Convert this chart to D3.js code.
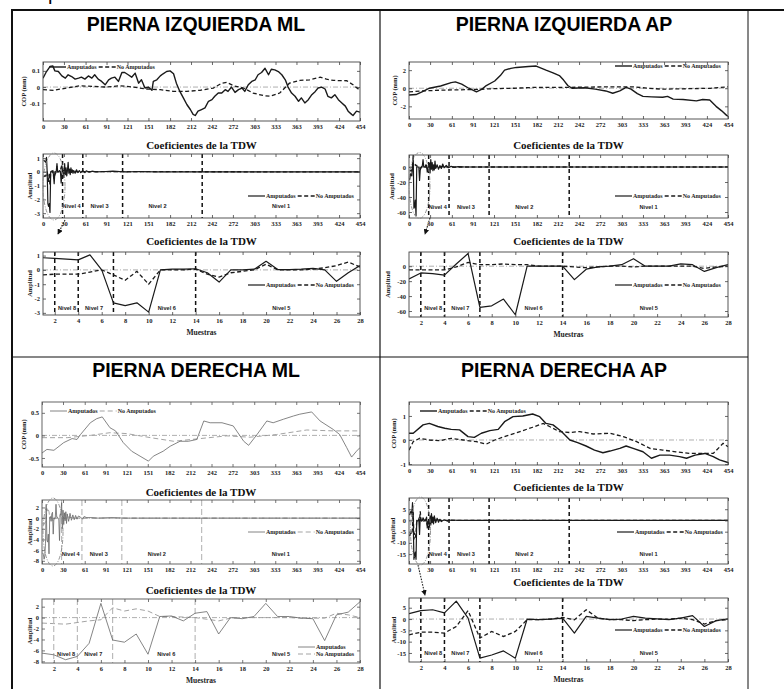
<!DOCTYPE html>
<html>
<head>
<meta charset="utf-8">
<script src="https://cdn.jsdelivr.net/npm/d3@7"></script>
<style>
  body { margin: 0; background: #fff; }
  svg { display: block; }
</style>
</head>
<body>
<svg id="chart" width="784" height="689"></svg>
<script>
// ---------- data ----------
const panelTitles = ['PIERNA IZQUIERDA ML', 'PIERNA IZQUIERDA AP', 'PIERNA DERECHA ML', 'PIERNA DERECHA AP'];
const seriesNames = ['Amputados', 'No Amputados'];
const subTitle = 'Coeficientes de la TDW';

const xTickFull = [0, 30, 61, 91, 121, 151, 182, 212, 242, 272, 303, 333, 363, 393, 424, 454];
const xTickZoom = [2, 4, 6, 8, 10, 12, 14, 16, 18, 20, 22, 24, 26, 28];
const cutsFull = [28, 57, 114, 228];
const cutsZoom = [2, 4, 7, 14];
const nivelFull = ['Nivel 4', 'Nivel 3', 'Nivel 2', 'Nivel 1'];
const nivelFullAt = [41, 81, 164, 341];
const nivelZoom = ['Nivel 8', 'Nivel 7', 'Nivel 6', 'Nivel 5'];
const nivelZoomAt = [3.05, 5.35, 11.55, 21.3];

// COP signals, [muestra, mm]
const izqMlCopAmp = [[0,0.055],[5,0.096],[10,0.127],[14,0.131],[17,0.1],[22,0.096],[27,0.069],[32,0.055],[36,0.076],[41,0.065],[46,0.049],[51,0.055],[55,0.061],[60,0.049],[65,0.069],[70,0.055],[74,0.076],[79,0.049],[84,0.035],[89,0.014],[94,0.045],[98,0.055],[103,0.061],[108,0.035],[113,0.09],[117,0.09],[122,0.076],[127,0.061],[132,0.086],[137,0.024],[141,0.045],[146,-0.006],[151,0],[156,-0.02],[158,0.035],[163,0.045],[168,0.069],[172,0.082],[177,0.096],[182,0.1],[187,0.082],[191,0.024],[196,-0.027],[201,-0.067],[206,-0.108],[211,-0.139],[215,-0.169],[218,-0.176],[222,-0.149],[227,-0.139],[232,-0.129],[237,-0.088],[242,-0.078],[246,-0.057],[251,-0.037],[256,-0.037],[261,-0.016],[265,-0.027],[270,0],[275,-0.033],[280,-0.016],[285,-0.006],[289,-0.027],[294,0.014],[299,0.035],[304,0.045],[308,0.076],[313,0.09],[318,0.116],[323,0.076],[327,0.11],[332,0.106],[337,0.096],[342,0.076],[347,0.045],[351,0],[356,-0.037],[361,-0.057],[366,-0.088],[370,-0.067],[375,-0.098],[380,-0.078],[385,-0.047],[390,-0.027],[394,-0.006],[399,0],[404,-0.012],[408,-0.057],[413,-0.067],[418,-0.047],[423,-0.078],[428,-0.098],[433,-0.118],[437,-0.149],[442,-0.169],[444,-0.176],[449,-0.149],[454,-0.155]];
const izqMlCopNoAmp = [[0,-0.016],[15,-0.02],[34,-0.006],[53,0.008],[72,0.004],[91,0],[110,0.008],[129,0],[148,-0.012],[168,-0.016],[187,-0.027],[206,-0.027],[225,-0.02],[244,-0.006],[256,0.024],[263,0.029],[273,0.008],[287,-0.006],[301,-0.037],[316,-0.053],[325,-0.057],[339,-0.037],[353,0.024],[368,0.041],[382,0.045],[397,0.061],[406,0.049],[416,0.041],[435,0.039],[444,0.014],[454,-0.02]];

const izqApCopAmp = [[0,-0.75],[10,-0.7],[20,-0.35],[29,0],[45,0.25],[60,0.62],[66,0.7],[75,0.45],[85,0],[96,-0.4],[104,-0.1],[110,0.3],[122,0.8],[130,1.4],[136,2.0],[145,2.2],[153,2.3],[170,2.4],[181,2.45],[195,2.0],[205,1.7],[214,1.4],[220,0.9],[226,0.3],[232,0],[250,0.05],[265,-0.1],[280,-0.3],[290,-0.55],[300,-0.3],[309,0.1],[316,-0.1],[325,-0.6],[333,-0.9],[345,-0.95],[361,-1.0],[368,-0.9],[376,-1.2],[390,-1.25],[409,-1.4],[418,-1.25],[428,-1.3],[437,-2.0],[445,-2.5],[452,-3.0],[454,-3.1]];
const izqApCopNoAmp = [[0,-0.4],[20,-0.3],[50,-0.2],[90,-0.15],[120,-0.05],[150,0],[180,0.1],[230,0.1],[280,0.15],[320,0.15],[340,0],[360,-0.1],[400,-0.05],[430,0],[454,0.15]];

const derMlCopAmp = [[0,-0.39],[7,-0.31],[17,-0.33],[31,-0.16],[43,-0.07],[50,-0.09],[55,0.02],[69,0.28],[78,0.37],[86,0.41],[97,0.17],[105,0.1],[116,-0.16],[128,-0.35],[140,-0.46],[152,-0.57],[159,-0.46],[173,-0.35],[183,-0.24],[197,-0.13],[209,-0.13],[221,-0.09],[231,0.32],[240,0.28],[257,0.28],[273,0.21],[288,-0.13],[295,-0.22],[307,0.02],[321,0.32],[330,0.28],[345,0.36],[359,0.43],[368,0.47],[385,0.52],[397,0.32],[416,0.13],[425,0.02],[435,-0.27],[442,-0.48],[449,-0.35],[454,-0.27]];
const derMlCopNoAmp = [[0,-0.05],[36,-0.05],[69,0],[97,0.06],[121,0.04],[155,-0.05],[188,-0.13],[226,-0.07],[264,-0.01],[297,-0.04],[335,0.02],[378,0.12],[416,0.1],[454,0.1]];

const derApCopAmp = [[0,0.28],[6,0.28],[20,0.63],[29,0.69],[41,0.56],[51,0.49],[60,0.44],[72,0.42],[84,0.14],[93,0.11],[103,0.28],[115,0.39],[127,0.44],[136,0.76],[148,0.97],[162,1.0],[176,1.08],[186,0.97],[195,0.69],[205,0.63],[217,0.35],[229,0],[240,-0.11],[252,-0.25],[264,-0.42],[276,-0.53],[286,-0.46],[300,-0.35],[309,-0.25],[319,-0.35],[333,-0.49],[345,-0.76],[357,-0.63],[371,-0.63],[385,-0.69],[395,-0.76],[407,-0.63],[421,-0.56],[433,-0.69],[442,-0.83],[454,-0.94]];
const derApCopNoAmp = [[0,-0.42],[6,-0.07],[15,0.07],[29,0],[44,-0.03],[60,0.07],[77,0],[96,-0.07],[110,-0.17],[122,0],[139,0.17],[158,0.35],[176,0.53],[191,0.69],[200,0.56],[214,0.35],[229,0.31],[243,0.35],[262,0.25],[286,0.28],[305,0.14],[324,-0.07],[343,-0.35],[361,-0.42],[380,-0.49],[399,-0.56],[414,-0.56],[433,-0.56],[447,-0.14],[454,-0.28]];

// first 28 wavelet coefficients (niveles 8 a 5)
const izqMlCoefAmp = [0.85, 0.8, 0.75, 0.7, 1.05, 0.0, -2.3, -2.5, -2.3, -2.95, 0.0, 0.05, 0.05, 0.08, -0.2, -0.85, 0.0, 0.0, 0.05, 0.6, 0.02, 0.02, 0.05, 0.1, 0.0, -0.8, -0.2, 0.3];
const izqMlCoefNoAmp = [-0.35, -0.3, -0.3, -0.3, -0.15, 0.0, -0.35, -0.73, -0.1, -1.0, 0.0, 0.0, 0.0, 0.05, -0.3, -0.5, -0.2, -0.1, 0.0, 0.4, 0.0, 0.0, 0.0, 0.05, 0.15, 0.3, 0.55, 0.2];
const izqApCoefAmp = [-17, -9, -10, -12, 3, 17, -55, -53, -44, -65, 0, 0, 0, 0, -18, -4, -1, 0, 2, 10, 0, 0, 0, 3, 2, -7, -2, 2];
const izqApCoefNoAmp = [-5, -5, -5, -5, -1, 5, 2, 2, 3, 2, 2, 0, 0, 0, -1, -2, -1, 0, 0, -1, 0, 0, 0, 0, 0, -3, -1, 0];
const derMlCoefAmp = [-6.5, -6.8, -7.7, -7.1, -4.7, 2.6, -4.1, -4.5, -3.0, -6.7, 0.2, 0.3, -0.6, 0.8, 1.1, -3.0, 0.0, -0.2, 0.2, 2.6, 0.2, 0.2, -0.1, -0.2, -4.2, 0.5, 1.0, 2.9];
const derMlCoefNoAmp = [-1.0, -1.1, -1.2, -0.9, -0.6, -0.4, 1.8, 1.2, 1.6, 1.2, 0.2, 0.2, 0.1, 0.0, -0.3, -0.6, -0.1, 0.0, 0.0, 0.0, 0.0, 0.0, -0.1, -0.1, -0.1, 0.8, 0.5, 0.0];
const derApCoefAmp = [2.4, 3.7, 4.1, 2.7, 7.9, 0.4, -17.3, -15.9, -14.1, -17.3, 0, -0.3, 0, 0.4, -6.2, 1.2, 0.4, -0.3, 0, 1.2, 0.4, 0.1, -0.3, 0.4, 1.5, -3.3, -0.7, 0.1];
const derApCoefNoAmp = [-7, -5.8, -5.8, -6.2, -3.3, 3.7, -8.4, -5.5, -7.7, -5.5, -0.3, -0.3, 0, 0.7, -0.3, 4.1, 0.4, -0.3, -0.3, -0.7, -0.3, 0, 0, 0.4, -0.3, -2.2, -0.7, -0.3];

// remaining coefficients (niveles 4 a 1), [muestra, amplitud]
const izqMlTailAmp = [[29,0.2],[30,-0.4],[31,0.6],[32,-0.2],[33,0.3],[34,-0.3],[35,0.1],[36,0.7],[37,-0.1],[38,0.2],[39,-0.2],[40,0.3],[41,0],[42,0.15],[43,-0.1],[44,0.1],[46,-0.1],[48,0.15],[50,-0.05],[52,0.1],[54,-0.05],[56,0.05],[58,0.05],[60,-0.05],[62,0.08],[66,-0.03],[70,0.05],[76,0],[90,0.03],[100,0.05],[110,0.02],[120,0],[140,0.03],[160,0],[454,0]];
const izqMlTailNoAmp = [[29,0.05],[32,-0.05],[36,0.1],[40,-0.05],[45,0.05],[50,0],[60,0.02],[454,0]];
const izqApTailAmp = [[29,5],[30,-8],[31,10],[32,-3],[33,6],[34,-5],[35,3],[36,-4],[37,8],[38,-2],[40,3],[42,-3],[44,2],[46,-2],[48,4],[50,-1],[53,2],[56,-1],[60,1],[64,-0.5],[70,0.5],[80,0],[454,0]];
const izqApTailNoAmp = [[29,1],[32,-1],[36,1.5],[40,-0.5],[46,0.5],[60,0],[454,0]];
const derMlTailAmp = [[29,-2],[30,1.5],[31,-1.2],[32,1],[33,-0.5],[34,1.2],[35,-1],[36,0.8],[38,-0.6],[40,0.9],[42,-0.4],[44,0.6],[46,-0.3],[48,0.5],[50,-0.2],[52,0.4],[55,0.2],[58,-0.2],[60,0.3],[64,0.1],[70,0.1],[80,0],[100,0.1],[120,0],[454,0]];
const derMlTailNoAmp = [[29,0.3],[33,-0.2],[38,0.2],[45,0],[454,0]];
const derApTailAmp = [[29,-3],[30,2],[31,-2],[32,3],[33,-1],[34,1.5],[35,-1.5],[36,2],[38,-1],[40,1],[42,-0.8],[44,0.5],[46,-0.5],[50,0.3],[55,-0.3],[60,0.2],[70,0],[454,0]];
const derApTailNoAmp = [[29,0.5],[33,-0.5],[38,0.5],[45,0],[454,0]];

// ---------- layout ----------
const SERIF = '"Liberation Serif", "DejaVu Serif", serif';
const SANS = '"Liberation Sans", Arial, sans-serif';
const asPairs = arr => arr.map((v, i) => [i + 1, v]);

const panels = [
  {
    title: panelTitles[0], cx: 196, ty: 31, left: 43, right: 360, gray: false,
    cop: { top: 62, bottom: 121, dom: [-0.21, 0.155], ticks: [-0.1, 0, 0.1], ylab: 24, legend: { x: 49, y: 67 },
           amp: izqMlCopAmp, noAmp: izqMlCopNoAmp },
    full: { top: 154, bottom: 218, dom: [-3.35, 1.3], ticks: [-3, -2, -1, 0, 1], ylab: 30, legend: { x: 248, y: 196 }, tty: 149, nivelY: 208,
            amp: asPairs(izqMlCoefAmp).concat(izqMlTailAmp), noAmp: asPairs(izqMlCoefNoAmp).concat(izqMlTailNoAmp),
            ellipse: [54, 186.5, 11, 33.5], arrow: [[65, 220], [58, 234]] },
    zoom: { top: 252, bottom: 315, dom: [-3.15, 1.25], ticks: [-3, -2, -1, 0, 1], ylab: 29.5, legend: { x: 248, y: 285 }, tty: 245, nivelY: 310,
            amp: asPairs(izqMlCoefAmp), noAmp: asPairs(izqMlCoefNoAmp) }
  },
  {
    title: panelTitles[1], cx: 564, ty: 31, left: 409, right: 728, gray: false,
    cop: { top: 62, bottom: 119, dom: [-3.4, 2.9], ticks: [-2, 0, 2], ylab: 395, legend: { x: 615, y: 66 },
           amp: izqApCopAmp, noAmp: izqApCopNoAmp },
    full: { top: 155, bottom: 218, dom: [-68, 16], ticks: [-60, -40, -20, 0], ylab: 392, legend: { x: 615, y: 196 }, tty: 149, nivelY: 209,
            amp: asPairs(izqApCoefAmp).concat(izqApTailAmp), noAmp: asPairs(izqApCoefNoAmp).concat(izqApTailNoAmp),
            ellipse: [419.5, 185.5, 10.5, 33], arrow: [[430, 218], [425, 234]] },
    zoom: { top: 252, bottom: 317, dom: [-68, 19], ticks: [-60, -40, -20, 0], ylab: 388, legend: { x: 615, y: 285 }, tty: 245, nivelY: 310,
            amp: asPairs(izqApCoefAmp), noAmp: asPairs(izqApCoefNoAmp) }
  },
  {
    title: panelTitles[2], cx: 196, ty: 377, left: 42, right: 360, gray: true,
    cop: { top: 402, bottom: 467, dom: [-0.7, 0.74], ticks: [-0.5, 0, 0.5], ylab: 24, legend: { x: 50, y: 411 },
           amp: derMlCopAmp, noAmp: derMlCopNoAmp },
    full: { top: 500, bottom: 564, dom: [-8.6, 3.4], ticks: [-8, -6, -4, -2, 0, 2], ylab: 29.5, legend: { x: 248, y: 532 }, tty: 496, nivelY: 556,
            amp: asPairs(derMlCoefAmp).concat(derMlTailAmp), noAmp: asPairs(derMlCoefNoAmp).concat(derMlTailNoAmp),
            ellipse: [53, 532, 10, 34] },
    zoom: { top: 599, bottom: 663, dom: [-8.3, 3.4], ticks: [-8, -6, -4, -2, 0, 2], ylab: 29.5, legend: { x: 298, y: 647, vertical: true }, tty: 594, nivelY: 656,
            amp: asPairs(derMlCoefAmp), noAmp: asPairs(derMlCoefNoAmp) }
  },
  {
    title: panelTitles[3], cx: 564, ty: 377, left: 409, right: 728, gray: false,
    cop: { top: 402, bottom: 465, dom: [-1.04, 1.58], ticks: [-1, 0, 1], ylab: 393.5, legend: { x: 420, y: 411 },
           amp: derApCopAmp, noAmp: derApCopNoAmp },
    full: { top: 498, bottom: 564, dom: [-19.4, 10], ticks: [-15, -10, -5, 0, 5], ylab: 393, legend: { x: 617, y: 532 }, tty: 491, nivelY: 556,
            amp: asPairs(derApCoefAmp).concat(derApTailAmp), noAmp: asPairs(derApCoefNoAmp).concat(derApTailNoAmp),
            ellipse: [420.5, 531, 10, 34], arrow: [[418, 565], [425, 595]] },
    zoom: { top: 598, bottom: 662, dom: [-19, 9.3], ticks: [-15, -10, -5, 0, 5], ylab: 394, legend: { x: 615, y: 630 }, tty: 586, nivelY: 655,
            amp: asPairs(derApCoefAmp), noAmp: asPairs(derApCoefNoAmp) }
  }
];

const svg = d3.select('#chart');

svg.append('defs').append('marker')
  .attr('id', 'arrowHead')
  .attr('viewBox', '0 0 8 8')
  .attr('refX', 7).attr('refY', 4)
  .attr('markerWidth', 5).attr('markerHeight', 5)
  .attr('orient', 'auto')
  .append('path').attr('d', 'M0,0 L8,4 L0,8 z').attr('fill', '#111');

// cropped glyph from the text above the table
svg.append('text').attr('x', 48).attr('y', 0)
  .attr('font-family', SANS).attr('font-size', 20).text('p');

// table frame
const frame = svg.append('g').attr('stroke', '#111');
frame.append('line').attr('x1', 11).attr('y1', 10).attr('x2', 784).attr('y2', 10).attr('stroke-width', 2);
frame.append('line').attr('x1', 12).attr('y1', 10).attr('x2', 12).attr('y2', 689).attr('stroke-width', 2);
frame.append('line').attr('x1', 380).attr('y1', 10).attr('x2', 380).attr('y2', 689).attr('stroke-width', 1.2);
frame.append('line').attr('x1', 748).attr('y1', 10).attr('x2', 748).attr('y2', 689).attr('stroke-width', 1);
frame.append('line').attr('x1', 12).attr('y1', 357).attr('x2', 748).attr('y2', 357).attr('stroke-width', 1.2);

let clipCount = 0;

function drawLegend(g, lg, st) {
  const lineLen = 17;
  const items = [
    { name: seriesNames[0], dash: null, color: st.ampColor, w: st.ampWidth },
    { name: seriesNames[1], dash: st.dash, color: st.noColor, w: st.noWidth }
  ];
  let cx = lg.x;
  items.forEach((it, i) => {
    const cy = lg.vertical ? lg.y + i * 7 : lg.y;
    const x0 = lg.vertical ? lg.x : cx;
    g.append('line')
      .attr('x1', x0).attr('x2', x0 + lineLen).attr('y1', cy).attr('y2', cy)
      .attr('stroke', it.color).attr('stroke-width', it.w)
      .attr('stroke-dasharray', it.dash);
    const t = g.append('text')
      .attr('x', x0 + lineLen + 1).attr('y', cy).attr('dy', '0.33em')
      .attr('font-family', SERIF).attr('font-size', 6).attr('font-weight', 'bold')
      .attr('fill', '#222').text(it.name);
    cx = x0 + lineLen + 1 + t.node().getComputedTextLength() + 2;
  });
}

function drawSubplot(p, cfg, kind) {
  const st = p.gray
    ? { ampColor: '#666', ampWidth: 0.8, noColor: '#999', noWidth: 0.9, dash: '5,3', cutColor: '#999', cutWidth: 0.8, cutDash: '6,3', box: '#555' }
    : { ampColor: '#1a1a1a', ampWidth: kind === 'cop' ? 1.4 : 1.2, noColor: '#1a1a1a', noWidth: 1.3, dash: '4,2.5', cutColor: '#111', cutWidth: 1.5, cutDash: '4,3', box: '#444' };

  const xDom = kind === 'zoom' ? [1, 28] : [0, 454];
  const x = d3.scaleLinear().domain(xDom).range([p.left, p.right]);
  const y = d3.scaleLinear().domain(cfg.dom).range([cfg.bottom, cfg.top]);
  const g = svg.append('g');

  const clipId = 'clip' + (clipCount++);
  g.append('clipPath').attr('id', clipId).append('rect')
    .attr('x', p.left).attr('y', cfg.top)
    .attr('width', p.right - p.left).attr('height', cfg.bottom - cfg.top);

  const plot = g.append('g').attr('clip-path', `url(#${clipId})`);

  // zero reference (dash-dot)
  plot.append('line')
    .attr('x1', p.left).attr('x2', p.right).attr('y1', y(0)).attr('y2', y(0))
    .attr('stroke', '#9a9a9a').attr('stroke-width', 0.8)
    .attr('stroke-dasharray', '5,2,1,2');

  // level separators
  if (kind !== 'cop') {
    const cuts = kind === 'zoom' ? cutsZoom : cutsFull;
    plot.selectAll('.cut').data(cuts).enter().append('line')
      .attr('x1', d => x(d)).attr('x2', d => x(d))
      .attr('y1', cfg.top).attr('y2', cfg.bottom)
      .attr('stroke', st.cutColor).attr('stroke-width', st.cutWidth)
      .attr('stroke-dasharray', st.cutDash);
  }

  const line = d3.line().x(d => x(d[0])).y(d => y(d[1]));
  plot.append('path').datum(cfg.noAmp).attr('d', line)
    .attr('fill', 'none').attr('stroke', st.noColor).attr('stroke-width', st.noWidth)
    .attr('stroke-dasharray', st.dash);
  plot.append('path').datum(cfg.amp).attr('d', line)
    .attr('fill', 'none').attr('stroke', st.ampColor).attr('stroke-width', st.ampWidth)
    .attr('stroke-linejoin', 'round');

  // axes (MATLAB style: ticks inside on all four sides)
  const xt = kind === 'zoom' ? xTickZoom : xTickFull;
  const styleAxis = sel => {
    sel.select('.domain').remove();
    sel.selectAll('line').attr('stroke', st.box).attr('stroke-width', 0.8);
    sel.selectAll('text').attr('font-family', SERIF).attr('font-size', 6.5)
      .attr('font-weight', 'bold').attr('fill', '#222');
  };
  g.append('g').attr('transform', `translate(0,${cfg.bottom})`)
    .call(d3.axisBottom(x).tickValues(xt).tickSize(-3).tickPadding(3.5).tickFormat(d => String(d)))
    .call(styleAxis);
  g.append('g').attr('transform', `translate(0,${cfg.top})`)
    .call(d3.axisTop(x).tickValues(xt).tickSize(-3).tickFormat(''))
    .call(styleAxis);
  g.append('g').attr('transform', `translate(${p.left},0)`)
    .call(d3.axisLeft(y).tickValues(cfg.ticks).tickSize(-3).tickPadding(3).tickFormat(d => String(d)))
    .call(styleAxis);
  g.append('g').attr('transform', `translate(${p.right},0)`)
    .call(d3.axisRight(y).tickValues(cfg.ticks).tickSize(-3).tickFormat(''))
    .call(styleAxis);

  g.append('rect')
    .attr('x', p.left).attr('y', cfg.top)
    .attr('width', p.right - p.left).attr('height', cfg.bottom - cfg.top)
    .attr('fill', 'none').attr('stroke', st.box).attr('stroke-width', 0.9);

  // y label
  g.append('text')
    .attr('transform', `translate(${cfg.ylab},${(cfg.top + cfg.bottom) / 2}) rotate(-90)`)
    .attr('text-anchor', 'middle').attr('dy', '0.35em')
    .attr('font-family', SERIF).attr('font-size', 6.5).attr('font-weight', 'bold')
    .attr('fill', '#222')
    .text(kind === 'cop' ? 'COP (mm)' : 'Amplitud');

  if (kind !== 'cop') {
    g.append('text')
      .attr('x', (p.left + p.right) / 2).attr('y', cfg.tty)
      .attr('text-anchor', 'middle')
      .attr('font-family', SERIF).attr('font-size', 11).attr('font-weight', 'bold')
      .attr('fill', '#111').text(subTitle);

    const names = kind === 'zoom' ? nivelZoom : nivelFull;
    const at = kind === 'zoom' ? nivelZoomAt : nivelFullAt;
    g.selectAll('.nivel').data(names).enter().append('text')
      .attr('x', (d, i) => x(at[i])).attr('y', cfg.nivelY)
      .attr('text-anchor', 'middle')
      .attr('font-family', SANS).attr('font-size', 5.6).attr('font-weight', 'bold')
      .attr('fill', '#222').text(d => d);
  }

  if (kind === 'zoom') {
    g.append('text')
      .attr('x', (p.left + p.right) / 2).attr('y', cfg.bottom + 20)
      .attr('text-anchor', 'middle')
      .attr('font-family', SERIF).attr('font-size', 7.5).attr('font-weight', 'bold')
      .attr('fill', '#222').text('Muestras');
  }

  drawLegend(g, cfg.legend, st);

  if (cfg.ellipse) {
    const [ex, ey, rx, ry] = cfg.ellipse;
    g.append('ellipse')
      .attr('cx', ex).attr('cy', ey).attr('rx', rx).attr('ry', ry)
      .attr('fill', 'none').attr('stroke', '#8a8a8a').attr('stroke-width', 0.9)
      .attr('stroke-dasharray', '4,1.5,1,1.5');
  }
  if (cfg.arrow) {
    const [[ax1, ay1], [ax2, ay2]] = cfg.arrow;
    g.append('line')
      .attr('x1', ax1).attr('y1', ay1).attr('x2', ax2).attr('y2', ay2)
      .attr('stroke', '#222').attr('stroke-width', 1.1)
      .attr('stroke-dasharray', '1.6,1.2')
      .attr('marker-end', 'url(#arrowHead)');
  }
}

panels.forEach(p => {
  svg.append('text')
    .attr('x', p.cx).attr('y', p.ty)
    .attr('text-anchor', 'middle')
    .attr('font-family', SANS).attr('font-size', 19.5).attr('font-weight', 'bold')
    .attr('fill', '#000').text(p.title);
  drawSubplot(p, p.cop, 'cop');
  drawSubplot(p, p.full, 'full');
  drawSubplot(p, p.zoom, 'zoom');
});
</script>
</body>
</html>
